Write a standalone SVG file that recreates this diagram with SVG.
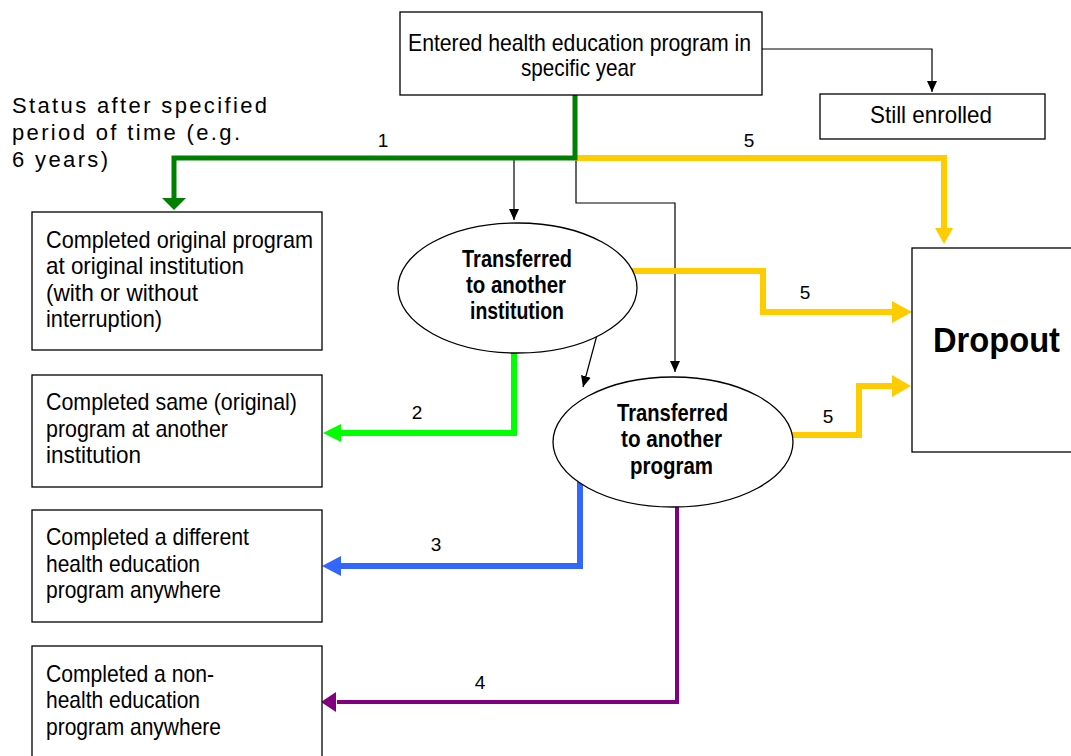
<svg xmlns="http://www.w3.org/2000/svg" width="1071" height="756" viewBox="0 0 1071 756">
<style>
.box{fill:#fff;stroke:#000;stroke-width:1.3}
.t{font-family:"Liberation Sans Narrow","Liberation Sans",Arial,sans-serif;font-size:24px;fill:#000}
.s{font-family:"Liberation Sans",Arial,sans-serif;font-size:22px;fill:#000}
.b{font-family:"Liberation Sans Narrow","Liberation Sans",Arial,sans-serif;font-size:24px;font-weight:bold;fill:#000}
.n{font-family:"Liberation Sans Narrow","Liberation Sans",Arial,sans-serif;font-size:19px;fill:#000}
.thin{fill:none;stroke:#000;stroke-width:1.2}
.thick{fill:none;stroke-linejoin:miter;stroke-linecap:butt}
</style>
<defs>
<marker id="ab" markerUnits="userSpaceOnUse" markerWidth="12" markerHeight="12" viewBox="0 0 12 12" refX="11" refY="6" orient="auto"><path d="M0,1 L11,6 L0,11 Z" fill="#000"/></marker>
</defs>
<rect width="1071" height="756" fill="#fff"/>

<g id="connectors">
  <!-- thin black -->
  <polyline class="thin" points="762,49 932,49 932,92" marker-end="url(#ab)"/>
  <polyline class="thin" points="514,158 514,220" marker-end="url(#ab)"/>
  <polyline class="thin" points="576,95 576,203 675,203 675,372" marker-end="url(#ab)"/>
  <line class="thin" x1="597" y1="335" x2="583" y2="387" marker-end="url(#ab)"/>
  <!-- yellow -->
  <polyline class="thick" stroke="#ffcc00" stroke-width="6" points="575,158 944,158 944,230"/>
  <polygon fill="#ffcc00" points="935,228 953,228 944,244"/>
  <polyline class="thick" stroke="#ffcc00" stroke-width="6" points="632,271 763,271 763,312 894,312"/>
  <polygon fill="#ffcc00" points="892,301 912,312 892,323"/>
  <polyline class="thick" stroke="#ffcc00" stroke-width="6" points="788,435 859,435 859,386 894,386"/>
  <polygon fill="#ffcc00" points="892,375 911,386 892,397"/>
  <!-- dark green -->
  <polyline class="thick" stroke="#008000" stroke-width="5" points="575,95 575,158 174,158 174,200"/>
  <polygon fill="#008000" points="162,198 186,198 174,210"/>
  <!-- bright green -->
  <polyline class="thick" stroke="#00ff00" stroke-width="6" points="514,350 514,433 339,433"/>
  <polygon fill="#00ff00" points="341,424 323,433 341,442"/>
  <!-- blue -->
  <polyline class="thick" stroke="#3366ff" stroke-width="6" points="580,482 580,566 339,566"/>
  <polygon fill="#3366ff" points="341,556 322,566 341,576"/>
  <!-- purple -->
  <polyline class="thick" stroke="#800080" stroke-width="4" points="677,507 677,702 337,702"/>
  <polygon fill="#800080" points="336,692 321,702 336,712"/>
  <!-- labels -->
  <text class="n" x="383" y="147" text-anchor="middle">1</text>
  <text class="n" x="749" y="147" text-anchor="middle">5</text>
  <text class="n" x="805" y="299" text-anchor="middle">5</text>
  <text class="n" x="828" y="423" text-anchor="middle">5</text>
  <text class="n" x="417" y="419" text-anchor="middle">2</text>
  <text class="n" x="436" y="551" text-anchor="middle">3</text>
  <text class="n" x="480" y="689" text-anchor="middle">4</text>
</g>

<g id="status">
  <text class="s" x="12" y="113" textLength="255" lengthAdjust="spacing">Status after specified</text>
  <text class="s" x="12" y="140" textLength="228" lengthAdjust="spacing">period of time (e.g.</text>
  <text class="s" x="12" y="167" textLength="96" lengthAdjust="spacing">6 years)</text>
</g>

<g id="entered">
  <rect class="box" x="400" y="12" width="362" height="83"/>
  <text class="t" x="408" y="51" textLength="343" lengthAdjust="spacingAndGlyphs">Entered health education program in</text>
  <text class="t" x="521" y="76" textLength="115" lengthAdjust="spacingAndGlyphs">specific year</text>
</g>

<g id="still">
  <rect class="box" x="820" y="94" width="225" height="45"/>
  <text class="t" x="870" y="123" textLength="122" lengthAdjust="spacingAndGlyphs">Still enrolled</text>
</g>

<g id="dropout">
  <rect class="box" x="912" y="248" width="165" height="204"/>
  <text class="b" x="933" y="352" style="font-size:35px" textLength="127" lengthAdjust="spacingAndGlyphs">Dropout</text>
</g>

<g id="institution">
  <ellipse class="box" cx="517.5" cy="288" rx="119.5" ry="65"/>
  <text class="b" x="462" y="267" textLength="110" lengthAdjust="spacingAndGlyphs">Transferred</text>
  <text class="b" x="466" y="293" textLength="100" lengthAdjust="spacingAndGlyphs">to another</text>
  <text class="b" x="470" y="319" textLength="94" lengthAdjust="spacingAndGlyphs">institution</text>
</g>

<g id="program">
  <ellipse class="box" cx="673" cy="442" rx="120" ry="65"/>
  <text class="b" x="617" y="421" textLength="111" lengthAdjust="spacingAndGlyphs">Transferred</text>
  <text class="b" x="621" y="447" textLength="101" lengthAdjust="spacingAndGlyphs">to another</text>
  <text class="b" x="630" y="474" textLength="83" lengthAdjust="spacingAndGlyphs">program</text>
</g>

<g id="c1">
  <rect class="box" x="32" y="212" width="290" height="138"/>
  <text class="t" x="46" y="248" textLength="267" lengthAdjust="spacingAndGlyphs">Completed original program</text>
  <text class="t" x="46" y="274" textLength="198" lengthAdjust="spacingAndGlyphs">at original institution</text>
  <text class="t" x="46" y="301" textLength="152" lengthAdjust="spacingAndGlyphs">(with or without</text>
  <text class="t" x="46" y="327" textLength="116" lengthAdjust="spacingAndGlyphs">interruption)</text>
</g>

<g id="c2">
  <rect class="box" x="32" y="375" width="290" height="112"/>
  <text class="t" x="46" y="410" textLength="251" lengthAdjust="spacingAndGlyphs">Completed same (original)</text>
  <text class="t" x="46" y="437" textLength="182" lengthAdjust="spacingAndGlyphs">program at another</text>
  <text class="t" x="46" y="463" textLength="95" lengthAdjust="spacingAndGlyphs">institution</text>
</g>

<g id="c3">
  <rect class="box" x="32" y="510" width="290" height="112"/>
  <text class="t" x="46" y="545" textLength="203" lengthAdjust="spacingAndGlyphs">Completed a different</text>
  <text class="t" x="46" y="572" textLength="154" lengthAdjust="spacingAndGlyphs">health education</text>
  <text class="t" x="46" y="598" textLength="175" lengthAdjust="spacingAndGlyphs">program anywhere</text>
</g>

<g id="c4">
  <rect class="box" x="32" y="646" width="290" height="120"/>
  <text class="t" x="46" y="682" textLength="168" lengthAdjust="spacingAndGlyphs">Completed a non-</text>
  <text class="t" x="46" y="708" textLength="154" lengthAdjust="spacingAndGlyphs">health education</text>
  <text class="t" x="46" y="735" textLength="175" lengthAdjust="spacingAndGlyphs">program anywhere</text>
</g>
</svg>
